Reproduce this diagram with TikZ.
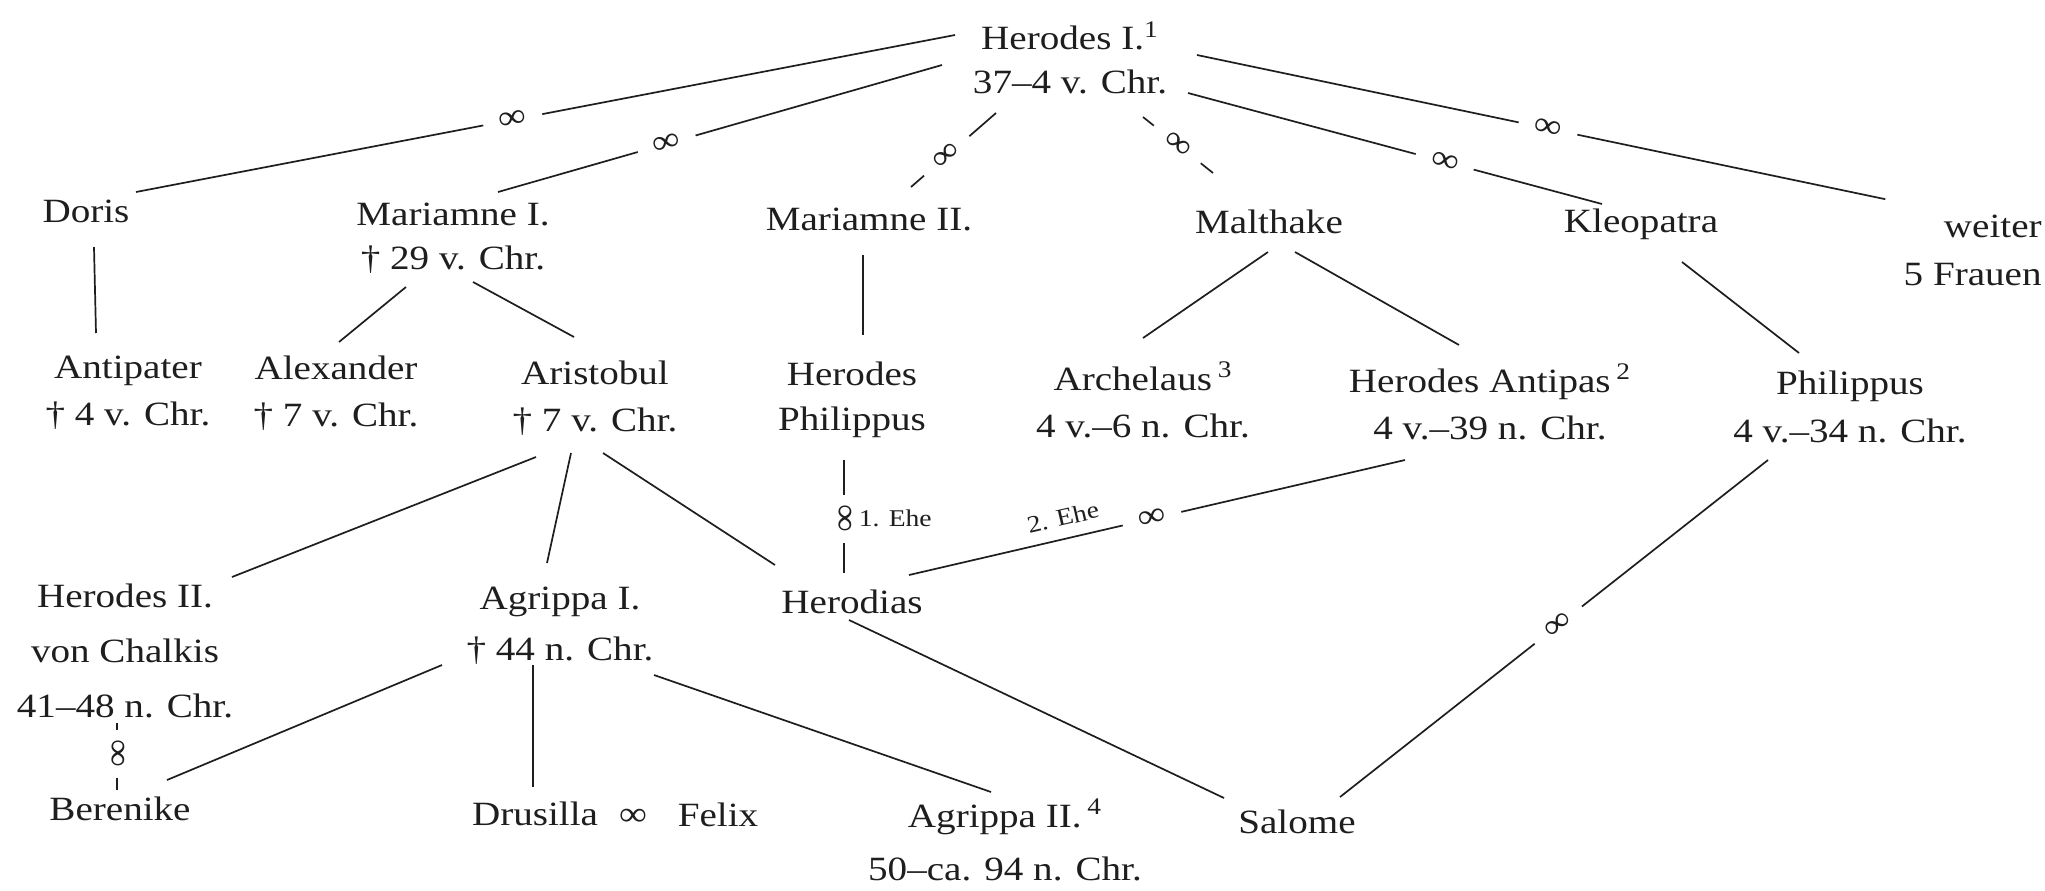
\documentclass[tikz,border=0pt]{standalone}
\usepackage{fontspec}
\setmainfont{Liberation Serif}[FakeStretch=1.15]
\usetikzlibrary{calc}
\definecolor{ink}{HTML}{1E1E1E}
\newcommand\famfont[1]{\fontsize{17pt}{#1}\selectfont}
\tikzset{
 person/.style={align=center, inner sep=0pt, text=ink, font=\famfont{22.5pt}},
 rel/.style={draw=ink, line width=0.85pt},
 marr/.style={sloped, fill=white, inner xsep=8pt, inner ysep=0.5pt, text=ink, font=\famfont{17pt}},
 ehe/.style={inner sep=0pt, text=ink, font=\fontsize{12pt}{14pt}\selectfont},
}
\begin{document}
\begin{tikzpicture}[x=0.5pt,y=-0.5pt]
\fill[white] (0,0) rectangle (2045,890);
\useasboundingbox (0,0) rectangle (2045,890);

% generation 1
\node[person, font=\famfont{22pt}] (herodes) at (1070,58) {Herodes I.\textsuperscript{1}\\37–4 v. Chr.};
\node[person, anchor=base] (doris) at (86,222) {Doris};
\node[person, font=\famfont{22pt}] (mar1) at (453,238) {Mariamne I.\\† 29 v. Chr.};
\node[person, anchor=base] (mar2) at (869,230) {Mariamne II.};
\node[person, anchor=base] (malthake) at (1269,233) {Malthake};
\node[person, anchor=base] (kleo) at (1641,232) {Kleopatra};
\node[person, align=right, anchor=east, font=\famfont{24pt}] (weiter) at (2042,250) {weiter\\5 Frauen};

% generation 2
\node[person, font=\famfont{23.5pt}] (antipater) at (128,393) {Antipater\\† 4 v. Chr.};
\node[person, font=\famfont{23.5pt}] (alexander) at (336,393) {Alexander\\† 7 v. Chr.};
\node[person, font=\famfont{23.5pt}] (aristobul) at (595,398) {Aristobul\\† 7 v. Chr.};
\node[person] (hphil) at (852,400) {Herodes\\Philippus};
\node[person, font=\famfont{23.5pt}] (archelaus) at (1143,400) {Archelaus\,\textsuperscript{3}\\4 v.–6 n. Chr.};
\node[person, font=\famfont{23.5pt}] (antipas) at (1490,402) {Herodes Antipas\,\textsuperscript{2}\\4 v.–39 n. Chr.};
\node[person, font=\famfont{24pt}] (philippus) at (1850,407) {Philippus\\4 v.–34 n. Chr.};

% generation 3
\node[person, font=\famfont{27.5pt}] (herodes2) at (125,651) {Herodes II.\\von Chalkis\\41–48 n. Chr.};
\node[person, font=\famfont{25.5pt}] (agrippa1) at (560,626) {Agrippa I.\\† 44 n. Chr.};
\node[person, anchor=base] (herodias) at (852,613) {Herodias};

% generation 4
\node[person, anchor=base] (berenike) at (120,820) {Berenike};
\node[person, anchor=base] (drusilla) at (535,825) {Drusilla};
\node[person, anchor=base] (dfinf) at (633,825) {∞};
\node[person, anchor=base] (felix) at (718,826) {Felix};
\node[person, font=\famfont{26.5pt}] (agrippa2) at (1005,840) {Agrippa II.\,\textsuperscript{4}\\50–ca. 94 n. Chr.};
\node[person, anchor=base] (salome) at (1297,833) {Salome};

% marriages of Herodes I.
\draw[rel] ($(herodes)+(-115,-23)$) -- node[marr,pos=0.54]{∞} ($(doris.base)+(50,-30)$);
\draw[rel] ($(herodes)+(-128,7)$) -- node[marr,pos=0.62]{∞} ($(mar1)+(45,-46)$);
\draw[rel] ($(herodes)+(-74,55)$) -- node[marr,pos=0.58]{∞} ($(mar2.base)+(42,-43)$);
\draw[rel] ($(herodes)+(73,59)$) -- node[marr,pos=0.49]{∞} ($(malthake.base)+(-56,-60)$);
\draw[rel] ($(herodes)+(118,35)$) -- node[marr,pos=0.62]{∞} ($(kleo.base)+(-39,-28)$);
\draw[rel] ($(herodes)+(127,-3)$) -- node[marr,pos=0.51]{∞} ($(weiter.north west)+(-18,-15)$);

% children
\draw[rel] ($(doris.base)+(8,25)$) -- ($(antipater)+(-32,-60)$);
\draw[rel] ($(mar1)+(-47,49)$) -- ($(alexander)+(3,-51)$);
\draw[rel] ($(mar1)+(20,44)$) -- ($(aristobul)+(-21,-61)$);
\draw[rel] ($(mar2.base)+(-6,25)$) -- ($(hphil)+(11,-65)$);
\draw[rel] ($(malthake.base)+(-1,19)$) -- ($(archelaus)+(0,-62)$);
\draw[rel] ($(malthake.base)+(26,19)$) -- ($(antipas)+(-31,-57)$);
\draw[rel] ($(kleo.base)+(41,30)$) -- ($(philippus)+(-51,-54)$);
\draw[rel] ($(aristobul)+(-59,59)$) -- ($(herodes2)+(107,-74)$);
\draw[rel] ($(aristobul)+(-24,55)$) -- ($(agrippa1)+(-13,-63)$);
\draw[rel] ($(aristobul)+(8,55)$) -- ($(herodias.base)+(-77,-48)$);
\draw[rel] ($(agrippa1)+(-118,39)$) -- ($(berenike.base)+(47,-40)$);
\draw[rel] ($(agrippa1)+(-27,39)$) -- ($(drusilla.base)+(-2,-38)$);
\draw[rel] ($(agrippa1)+(94,49)$) -- ($(agrippa2)+(-14,-48)$);
\draw[rel] ($(herodias.base)+(-3,7)$) -- ($(salome.base)+(-73,-35)$);

% further marriages
\draw[rel] ($(hphil)+(-8,60)$) -- node[marr,pos=0.52,inner xsep=5pt]{∞}
  node[ehe,pos=0.52,right=7pt]{1. Ehe} ($(herodias.base)+(-8,-40)$);
\draw[rel] ($(herodias.base)+(57,-38)$) -- node[marr,pos=0.49]{∞}
  node[ehe,sloped,pos=0.32,above=6pt]{2. Ehe} ($(antipas)+(-85,58)$);
\draw[rel] ($(herodes2)+(-8,72)$) -- node[marr,pos=0.46,inner xsep=5pt]{∞} ($(berenike.base)+(-3,-30)$);
\draw[rel] ($(philippus)+(-82,53)$) -- node[marr,pos=0.49]{∞} ($(salome.base)+(43,-36)$);
\end{tikzpicture}
\end{document}
